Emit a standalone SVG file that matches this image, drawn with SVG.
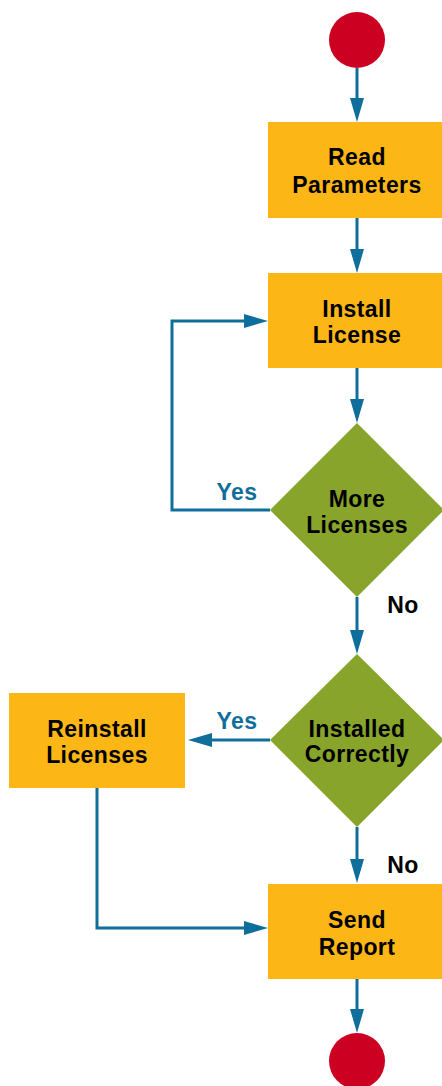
<svg xmlns="http://www.w3.org/2000/svg" width="442" height="1086" viewBox="0 0 442 1086">
<style>
.box{fill:#FCB716}
.dec{fill:#89A42A}
.term{fill:#CC0020}
.lbl{font-family:"Liberation Sans",Arial,sans-serif;font-weight:bold;font-size:23px;fill:#000;text-anchor:middle;letter-spacing:0.4px}
.yes{fill:#106E9C}
.conn{fill:none;stroke:#106E9C;stroke-width:3}
</style>
<defs>
<marker id="arr" viewBox="0 0 24 14" refX="14" refY="7" markerWidth="24" markerHeight="14" markerUnits="userSpaceOnUse" orient="auto">
<path d="M0,0 L24,7 L0,14 z" fill="#106E9C"/>
</marker>
</defs>
<rect width="442" height="1086" fill="#fff"/>
<g id="connectors">
<path class="conn" d="M357 68 V112" marker-end="url(#arr)"/>
<path class="conn" d="M357 218 V263" marker-end="url(#arr)"/>
<path class="conn" d="M357 368 V413" marker-end="url(#arr)"/>
<path class="conn" d="M270 510 H172 V321 H258" marker-end="url(#arr)"/>
<path class="conn" d="M357 597 V644" marker-end="url(#arr)"/>
<path class="conn" d="M270 740 H198" marker-end="url(#arr)"/>
<path class="conn" d="M357 827 V873" marker-end="url(#arr)"/>
<path class="conn" d="M97 788 V928 H258" marker-end="url(#arr)"/>
<path class="conn" d="M357 979 V1023" marker-end="url(#arr)"/>
<text class="lbl yes" x="237" y="500">Yes</text>
<text class="lbl" x="403" y="613">No</text>
<text class="lbl yes" x="237" y="729">Yes</text>
<text class="lbl" x="403" y="873">No</text>
</g>
<g id="start"><circle class="term" cx="357" cy="40" r="28"/></g>
<g id="read">
<rect class="box" x="268" y="122" width="178" height="96"/>
<text class="lbl" x="357" y="165">Read</text>
<text class="lbl" x="357" y="193">Parameters</text>
</g>
<g id="install">
<rect class="box" x="268" y="273" width="178" height="95"/>
<text class="lbl" x="357" y="317">Install</text>
<text class="lbl" x="357" y="343">License</text>
</g>
<g id="more">
<polygon class="dec" points="357,423 444,510 357,597 270,510"/>
<text class="lbl" x="357" y="507">More</text>
<text class="lbl" x="357" y="533">Licenses</text>
</g>
<g id="correct">
<polygon class="dec" points="357,654 444,740 357,827 270,740"/>
<text class="lbl" x="357" y="737">Installed</text>
<text class="lbl" x="357" y="762">Correctly</text>
</g>
<g id="reinstall">
<rect class="box" x="9" y="693" width="176" height="95"/>
<text class="lbl" x="97" y="737">Reinstall</text>
<text class="lbl" x="97" y="763">Licenses</text>
</g>
<g id="report">
<rect class="box" x="268" y="884" width="178" height="95"/>
<text class="lbl" x="357" y="928">Send</text>
<text class="lbl" x="357" y="955">Report</text>
</g>
<g id="end"><circle class="term" cx="357" cy="1061" r="28"/></g>
</svg>
